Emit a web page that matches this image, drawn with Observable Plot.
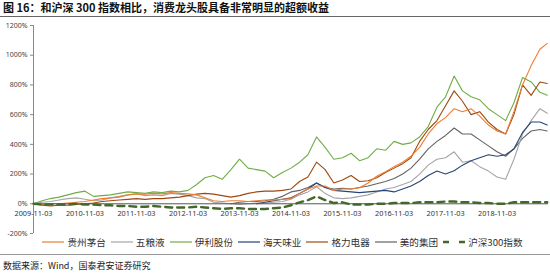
<!DOCTYPE html>
<html>
<head>
<meta charset="utf-8">
<script src="https://cdn.jsdelivr.net/npm/d3@7"></script>
<script src="https://cdn.jsdelivr.net/npm/@observablehq/plot@0.6"></script>
<style>
  html, body { margin: 0; padding: 0; background: #fff; }
  #wrap { position: relative; width: 550px; height: 277px; overflow: hidden; font-family: "Noto Sans CJK SC", "Noto Sans", sans-serif; }
  #title { position: absolute; left: 3px; top: 1px; font-size: 11px; line-height: 13px; font-weight: bold; color: #111; white-space: nowrap; }
  #titleRule { position: absolute; left: 0; top: 16px; width: 550px; height: 1px; background: #666; }
  #chart { position: absolute; left: 0; top: 19px; }
  #legend { position: absolute; left: 0; top: 234px; width: 550px; height: 15px; display: flex; justify-content: center; align-items: center; font-size: 9.6px; line-height: 12px; color: #333; padding-left: 20px; box-sizing: border-box; }
  .item { display: flex; align-items: center; margin-right: 5px; white-space: nowrap; }
  .item svg { margin-right: 3px; }
  #footRule { position: absolute; left: 0; top: 254px; width: 550px; height: 1px; background: #999; }
  #source { position: absolute; left: 3px; top: 260px; font-size: 9px; line-height: 12px; color: #222; white-space: nowrap; }
</style>
</head>
<body>
<div id="wrap">
  <div id="title">图 16：和沪深 300 指数相比，消费龙头股具备非常明显的超额收益</div>
  <div id="titleRule"></div>
  <div id="chart"></div>
  <div id="legend"></div>
  <div id="footRule"></div>
  <div id="source">数据来源：Wind，国泰君安证券研究</div>
</div>
<script>
// Bimonthly sample dates
const dates = [
  "2009-11-03","2010-01-03","2010-03-03","2010-05-03","2010-07-03","2010-09-03",
  "2010-11-03","2011-01-03","2011-03-03","2011-05-03","2011-07-03","2011-09-03",
  "2011-11-03","2012-01-03","2012-03-03","2012-05-03","2012-07-03","2012-09-03",
  "2012-11-03","2013-01-03","2013-03-03","2013-05-03","2013-07-03","2013-09-03",
  "2013-11-03","2014-01-03","2014-03-03","2014-05-03","2014-07-03","2014-09-03",
  "2014-11-03","2015-01-03","2015-03-03","2015-05-03","2015-07-03","2015-09-03",
  "2015-11-03","2016-01-03","2016-03-03","2016-05-03","2016-07-03","2016-09-03",
  "2016-11-03","2017-01-03","2017-03-03","2017-05-03","2017-07-03","2017-09-03",
  "2017-11-03","2018-01-03","2018-03-03","2018-05-03","2018-07-03","2018-09-03",
  "2018-11-03","2019-01-03","2019-03-03","2019-05-03","2019-07-03","2019-09-03",
  "2019-10-25"
];

// Excess/cumulative returns, %
const maotai = [0,-5,0,0,5,10, 15,25,35,40,45,60, 67,65,70,67,75,70, 67,60,40,20,15,20,
  20,15,20,25,25,30, 35,70,100,120,120,90, 100,100,108,140,185,215, 250,280,320,380,470,540,
  580,640,620,640,590,530, 490,470,620,800,930,1040, 1080];
const wuliangye = [0,10,15,25,35,40, 30,20,25,40,50,60, 67,55,60,55,70,65, 55,40,35,10,5,0,
  -5,0,5,5,10,15, 30,60,80,115,70,40, 35,40,50,60,80,100, 110,130,150,200,260,300,
  310,350,280,290,250,220, 180,165,300,470,560,640, 610];
const yili = [0,20,35,45,60,75, 85,50,55,60,70,80, 75,70,80,75,85,80, 90,130,175,190,165,230,
  300,240,230,220,175,210, 240,280,330,450,380,300, 310,340,290,310,370,360, 420,400,410,450,520,650,
  720,860,760,720,700,640, 600,560,680,850,820,750, 730];
const haitian = [null,null,null,null,null,null, null,null,null,null,null,null, null,null,null,null,null,null,
  null,null,null,null,null,null, null,null,0,10,20,30, 40,70,100,140,110,90, 85,80,75,80,85,90,
  80,100,120,150,190,220, 200,222,260,290,310,330, 320,330,370,480,550,550, 530];
const geli = [0,-10,-15,-10,-10,-5, 0,5,15,20,25,30, 35,30,35,35,40,45, 55,65,70,65,55,45,
  55,70,80,85,85,90, 100,150,180,280,230,140, 160,190,150,155,175,210, 240,270,310,420,500,560,
  660,760,690,600,620,550, 500,470,600,800,730,820, 810];
const meidi = [null,null,null,null,null,null, null,null,null,null,null,null, null,null,null,null,null,null,
  null,null,null,null,null,0, 10,15,15,20,30,50, 80,90,110,140,110,100, 105,100,110,120,135,150,
  170,200,240,300,370,420, 460,510,470,470,430,390, 350,320,370,440,490,500, 490];
const hs300 = [0,-5,-5,-5,-5,0, -5,-5,-10,-10,-15,-15, -20,-20,-15,-20,-25,-25, -25,-20,-25,-30,-35,-30,
  -30,-35,-35,-35,-30,-25, -10,10,25,50,25,5, 10,-5,-5,-5,0,0, 5,5,5,10,10,10,
  15,15,10,10,5,5, 0,0,10,10,10,10, 10];

const seriesNames = ["贵州茅台","五粮液","伊利股份","海天味业","格力电器","美的集团","沪深300指数"];
const seriesValues = [maotai, wuliangye, yili, haitian, geli, meidi, hs300];
const seriesColors = ["#ED7D31","#A5A5A5","#70AD47","#264478","#9E480E","#636363","#43682B"];

const yTicks = [-200,0,200,400,600,800,1000,1200];
const xTickLabels = ["2009-11-03","2010-11-03","2011-11-03","2012-11-03","2013-11-03",
  "2014-11-03","2015-11-03","2016-11-03","2017-11-03","2018-11-03"];

const parse = d3.utcParse("%Y-%m-%d");
const rows = [];
seriesNames.forEach((name, k) => {
  seriesValues[k].forEach((v, i) => {
    if (v !== null) rows.push({series: name, date: parse(dates[i]), value: v});
  });
});
const x0 = parse("2009-11-03"), x1 = parse("2019-11-03");

const drawOrder = ["美的集团","五粮液","海天味业","伊利股份","格力电器","贵州茅台"];
const lineMarks = drawOrder.map(name => Plot.line(rows.filter(r => r.series === name), {
  x: "date", y: "value", stroke: seriesColors[seriesNames.indexOf(name)], strokeWidth: 1.1
}));

const chart = Plot.plot({
  width: 550,
  height: 222,
  marginLeft: 33,
  marginRight: 2,
  marginTop: 6,
  marginBottom: 8,
  style: {fontFamily: "Noto Sans, sans-serif", background: "transparent"},
  x: {type: "utc", domain: [x0, x1], axis: null, label: null},
  y: {domain: [-200, 1200], axis: null, label: null},
  marks: [
    Plot.ruleX([x0], {y1: -200, y2: 1200, stroke: "#888", strokeWidth: 1}),
    Plot.axisY({ticks: yTicks, tickFormat: d => d + "%", tickSize: 3, tickPadding: 3,
      fontSize: 7, stroke: "#888", color: "#444", label: null}),
    ...lineMarks,
    Plot.ruleY([0], {stroke: "#555", strokeWidth: 1}),
    Plot.line(rows.filter(r => r.series === "沪深300指数"), {
      x: "date", y: "value", stroke: "#43682B", strokeWidth: 2.4, strokeDasharray: "7,5"
    }),
    Plot.text(xTickLabels, {x: d => parse(d), y: 0, text: d => d, dy: 10,
      fontSize: 7.3, fill: "#333"})
  ]
});
document.getElementById("chart").appendChild(chart);

const legend = document.getElementById("legend");
seriesNames.forEach((name, k) => {
  const item = document.createElement("div");
  item.className = "item";
  const dashed = k === 6;
  item.innerHTML = `<svg width="22" height="6"><line x1="0" y1="3" x2="22" y2="3" stroke="${seriesColors[k]}" stroke-width="${dashed ? 2.6 : 1.2}" ${dashed ? 'stroke-dasharray="6,10"' : ''}/></svg><span>${name}</span>`;
  legend.appendChild(item);
});
</script>
</body>
</html>
